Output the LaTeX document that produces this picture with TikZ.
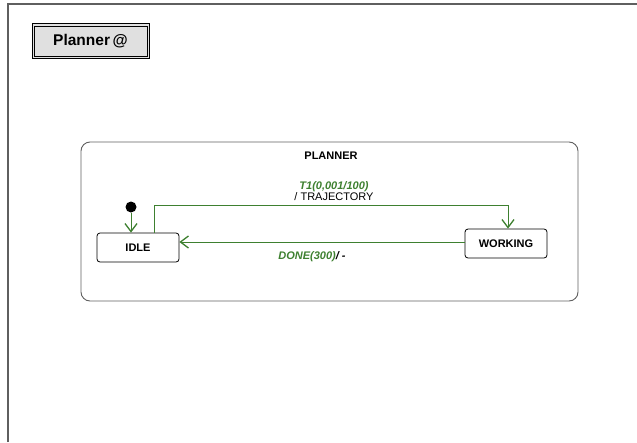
\documentclass[tikz,border=0pt]{standalone}
\usepackage{fontspec}
\setmainfont{Liberation Sans}
\usetikzlibrary{arrows.meta}
\definecolor{trgreen}{RGB}{62,128,48}
\definecolor{framegray}{RGB}{95,95,95}
\tikzset{
  frameline/.style={draw=framegray, line width=1.4pt},
  titlebox/.style={draw=black, line width=0.8pt,
    fill=black!12, minimum width=117pt, minimum height=35pt, inner sep=0pt,
    font=\fontsize{15.5}{17}\selectfont\bfseries},
  titleinner/.style={draw=black, line width=0.8pt},
  container/.style={draw=framegray, line width=0.9pt, rounded corners=9pt},
  state/.style={draw=black, line width=0.8pt, rounded corners=3pt, fill=white,
    minimum width=82pt, minimum height=29pt, inner sep=0pt,
    font=\fontsize{11}{12}\selectfont\bfseries},
  initial/.style={circle, fill=black, minimum size=11pt, inner sep=0pt},
  trans/.style={draw=trgreen, line width=0.8pt,
    -{Straight Barb[length=8pt,width=12pt,line width=1.3pt]}},
  trlabel/.style={font=\fontsize{11}{12}\selectfont, align=center, inner sep=0pt},
}
\begin{document}
\begin{tikzpicture}[x=1pt,y=-1pt]
  \useasboundingbox (0,0) rectangle (637,442);
  % page frame, open to the right and bottom
  \draw[frameline] (8,442) -- (8,4) -- (637,4);
  % title tab with a double border
  \node[titlebox] (title) at (90.5,41.3) {Planner\,@};
  \draw[titleinner] ([shift={(2.5pt,2.5pt)}]title.south west) rectangle ([shift={(-2.5pt,-2.5pt)}]title.north east);
  % composite state
  \draw[container] (81,142) rectangle (578,301);
  \node[font=\fontsize{11}{12}\selectfont\bfseries] (plannerlbl) at (331,156) {PLANNER};
  % states
  \node[state] (idle) at (138,247.5) {IDLE};
  \node[state] (working) at (506,243.5) {WORKING};
  \node[initial] (init) at (131,207) {};
  % transitions
  \draw[trans] (init) -- (init |- idle.north);
  \draw[trans] ([xshift=16pt]idle.north) -- ++(0,-27.3) -| ([xshift=2pt]working.north);
  \draw[trans] ([yshift=1.5pt]working.west) -- ([yshift=5.5pt]idle.east);
  % transition labels
  \node[trlabel] (t1lbl) at (334,191) {\textcolor{trgreen}{\bfseries\itshape T1(0,001/100)}\\[-1.5pt]/ TRAJECTORY};
  \node[trlabel] (donelbl) at (312,256.5) {\bfseries\itshape\textcolor{trgreen}{DONE(300)}/ -};
\end{tikzpicture}
\end{document}
